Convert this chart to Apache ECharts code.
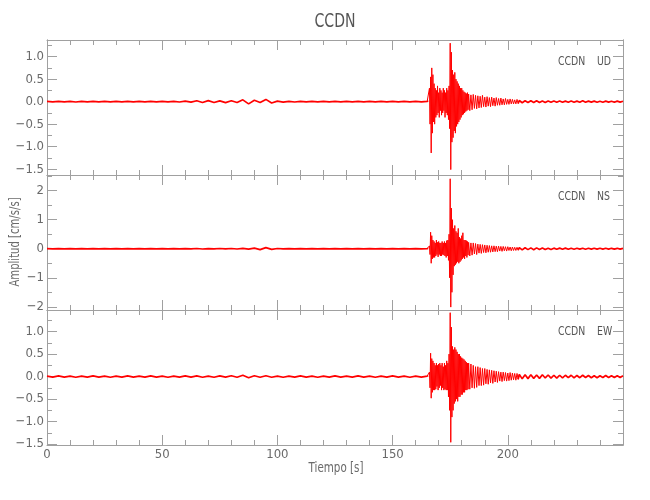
<!DOCTYPE html>
<html><head><meta charset="utf-8">
<script src="https://cdn.jsdelivr.net/npm/echarts@6/dist/echarts.min.js"></script>
<style>html,body{margin:0;padding:0;background:#fff}#c{width:650px;height:500px}</style>
</head><body><div id="c"></div>
<script>
// ---------------- data ----------------
const stationName = 'CCDN';
const channels = ['UD', 'NS', 'EW'];
const xTitle = 'Tiempo [s]';
const yTitle = 'Amplitud [cm/s/s]';
const timeMin = 0, timeMax = 250, timeTickStep = 50;

// sampling of each trace segment: [start time (s), sample step (s)]
const preSampling = [0, 2.5];
const burstSampling = [165.5, 0.25];
const codaSampling = [183, 0.5];
const tailSampling = [205, 1.25];

// UD component
const udPre = [
  0.006,-0.006,0.008,-0.006,0.006,-0.008,0.006,-0.006,0.007,-0.006,
  0.006,-0.007,0.006,-0.006,0.007,-0.006,0.006,-0.007,0.006,-0.006,
  0.007,-0.007,0.008,-0.008,0.012,-0.012,0.02,-0.018,0.022,-0.02,
  0.018,-0.022,0.02,-0.02,0.04,-0.05,0.03,-0.02,0.05,-0.03,
  0.012,-0.01,0.008,-0.008,0.006,-0.007,0.006,-0.006,0.007,-0.006,
  0.006,-0.007,0.006,-0.006,0.007,-0.006,0.006,-0.007,0.006,-0.006,
  0.007,-0.006,0.006,-0.007,0.006,-0.006,0.006];
const udBurst = [
  0.01,-0.02,0.3,-0.5,0.55,-1.14,0.75,-0.7,0.6,-0.45,
  0.4,-0.5,0.3,-0.35,0.25,-0.3,0.35,-0.25,0.2,-0.35,
  0.3,-0.2,0.25,-0.3,0.2,-0.25,0.3,-0.2,0.25,-0.35,
  0.2,-0.25,0.3,-0.3,0.25,-0.4,0.35,-0.6,1.3,-1.51,
  1.1,-0.9,0.7,-0.8,0.6,-0.65,0.65,-0.7,0.5,-0.55,
  0.45,-0.5,0.4,-0.45,0.35,-0.4,0.3,-0.35,0.3,-0.3,
  0.25,-0.28,0.22,-0.25,0.2,-0.22,0.18,-0.2,0.2,-0.18];
const udCoda = [
  0.17,-0.2,0.15,-0.18,0.16,-0.15,0.14,-0.16,0.13,-0.14,
  0.12,-0.13,0.14,-0.11,0.1,-0.12,0.11,-0.1,0.09,-0.11,
  0.1,-0.09,0.08,-0.1,0.09,-0.08,0.07,-0.08,0.08,-0.07,
  0.06,-0.07,0.07,-0.06,0.05,-0.06,0.06,-0.05,0.05,-0.05,
  0.04,-0.05,0.05,-0.04];
const udTail = [
  0.025,-0.025,0.02,-0.02,0.02,-0.02,0.018,-0.02,0.015,-0.018,
  0.015,-0.015,0.015,-0.012,0.015,-0.015,0.012,-0.012,0.015,-0.012,
  0.012,-0.012,0.02,-0.012,0.012,-0.01,0.012,-0.012,0.01,-0.012,
  0.012,-0.01,0.01,-0.012,0.012,-0.01,0.01];

// NS component
const nsPre = [
  0.006,-0.006,0.007,-0.006,0.006,-0.007,0.006,-0.006,0.006,-0.006,
  0.007,-0.006,0.006,-0.006,0.006,-0.007,0.006,-0.006,0.006,-0.006,
  0.007,-0.006,0.006,-0.007,0.006,-0.006,0.009,-0.009,0.007,-0.006,
  0.009,-0.007,0.009,-0.009,0.012,-0.012,0.02,-0.03,0.04,-0.02,
  0.009,-0.007,0.006,-0.006,0.007,-0.006,0.006,-0.006,0.006,-0.007,
  0.006,-0.006,0.007,-0.006,0.006,-0.006,0.007,-0.006,0.006,-0.007,
  0.006,-0.006,0.006,-0.007,0.006,-0.006,0.006];
const nsBurst = [
  0.01,-0.02,0.1,-0.2,0.57,-0.5,0.45,-0.35,0.3,-0.3,
  0.25,-0.3,0.2,-0.25,0.3,-0.2,0.22,-0.28,0.25,-0.2,
  0.2,-0.25,0.2,-0.25,0.25,-0.2,0.2,-0.22,0.25,-0.25,
  0.2,-0.3,0.28,-0.25,0.3,-0.4,0.5,-1.0,2.41,-2.01,
  1.4,-1.5,1.0,-0.9,0.7,-0.6,0.8,-0.55,0.6,-0.5,
  0.55,-0.45,0.7,-0.5,0.4,-0.45,0.35,-0.4,0.45,-0.35,
  0.55,-0.3,0.3,-0.35,0.3,-0.25,0.28,-0.3,0.25,-0.22];
const nsCoda = [
  0.22,-0.25,0.2,-0.22,0.2,-0.18,0.18,-0.2,0.16,-0.15,
  0.15,-0.16,0.14,-0.13,0.13,-0.14,0.12,-0.12,0.11,-0.12,
  0.1,-0.11,0.1,-0.1,0.09,-0.1,0.09,-0.08,0.08,-0.09,
  0.08,-0.07,0.07,-0.08,0.07,-0.06,0.06,-0.07,0.06,-0.06,
  0.05,-0.06,0.05,-0.05];
const nsTail = [
  0.04,-0.04,0.035,-0.03,0.03,-0.035,0.03,-0.025,0.025,-0.03,
  0.02,-0.025,0.02,-0.02,0.02,-0.018,0.02,-0.02,0.018,-0.018,
  0.018,-0.015,0.018,-0.018,0.015,-0.015,0.018,-0.015,0.015,-0.015,
  0.015,-0.015,0.015,-0.012,0.015,-0.015,0.012];

// EW component
const ewPre = [
  0.012,-0.012,0.015,-0.012,0.012,-0.015,0.012,-0.012,0.015,-0.012,
  0.012,-0.015,0.012,-0.012,0.015,-0.012,0.012,-0.012,0.015,-0.012,
  0.012,-0.015,0.012,-0.012,0.015,-0.012,0.015,-0.015,0.012,-0.015,
  0.015,-0.012,0.02,-0.015,0.03,-0.025,0.02,-0.015,0.02,-0.015,
  0.012,-0.015,0.012,-0.012,0.015,-0.012,0.012,-0.015,0.012,-0.012,
  0.015,-0.012,0.012,-0.012,0.015,-0.012,0.012,-0.015,0.012,-0.012,
  0.015,-0.012,0.012,-0.015,0.012,-0.012,0.012];
const ewBurst = [
  0.02,-0.03,0.1,-0.25,0.52,-0.48,0.4,-0.35,0.35,-0.3,
  0.3,-0.3,0.25,-0.28,0.3,-0.22,0.25,-0.3,0.28,-0.25,
  0.3,-0.2,0.25,-0.3,0.3,-0.25,0.22,-0.3,0.3,-0.28,
  0.25,-0.3,0.35,-0.3,0.3,-0.45,0.5,-0.75,1.42,-1.46,
  1.1,-0.9,0.67,-0.75,0.6,-0.6,0.65,-0.55,0.6,-0.5,
  0.55,-0.55,0.5,-0.45,0.5,-0.45,0.45,-0.4,0.42,-0.4,
  0.4,-0.35,0.38,-0.35,0.35,-0.3,0.32,-0.3,0.3,-0.28];
const ewCoda = [
  0.3,-0.28,0.28,-0.25,0.25,-0.26,0.22,-0.24,0.22,-0.2,
  0.2,-0.2,0.18,-0.19,0.18,-0.16,0.16,-0.17,0.15,-0.14,
  0.14,-0.15,0.13,-0.12,0.12,-0.13,0.11,-0.1,0.1,-0.11,
  0.1,-0.09,0.09,-0.1,0.08,-0.09,0.09,-0.08,0.08,-0.07,
  0.07,-0.08,0.07,-0.06];
const ewTail = [
  0.05,-0.05,0.04,-0.045,0.04,-0.04,0.035,-0.04,0.04,-0.03,
  0.035,-0.035,0.03,-0.035,0.03,-0.03,0.03,-0.025,0.03,-0.03,
  0.025,-0.025,0.03,-0.02,0.025,-0.025,0.02,-0.025,0.02,-0.02,
  0.025,-0.02,0.02,-0.02,0.02,-0.018,0.02];

// y ranges and tick values per panel
const udRange = [-1.63, 1.37];
const nsRange = [-2.11, 2.54];
const ewRange = [-1.52, 1.48];
const udMajorTicks = [-1.5, -1, -0.5, 0, 0.5, 1];
const udMinorTicks = [-1.25, -0.75, -0.25, 0.25, 0.75, 1.25];
const nsMajorTicks = [-2, -1, 0, 1, 2];
const nsMinorTicks = [-1.5, -0.5, 0.5, 1.5, 2.5];
const ewMajorTicks = [-1.5, -1, -0.5, 0, 0.5, 1];
const ewMinorTicks = [-1.25, -0.75, -0.25, 0.25, 0.75, 1.25];

// ---------------- build ----------------
function segment(sampling, vals) {
  return vals.map((v, i) => [+(sampling[0] + i * sampling[1]).toFixed(3), v]);
}
function panel(ch, range, major, minor, decimals, pre, burst, coda, tail) {
  const preD = segment(preSampling, pre);
  const mainD = segment(burstSampling, burst).concat(segment(codaSampling, coda));
  const tailD = segment(tailSampling, tail);
  // quiet parts drawn slightly thicker, joined to the main part at the seams
  return { ch, range, major, minor, decimals,
    quiet: [preD.concat([mainD[0]]), [mainD[mainD.length - 1]].concat(tailD)],
    main: [preD[preD.length - 1]].concat(mainD, [tailD[0]]) };
}
const panels = [
  panel(channels[0], udRange, udMajorTicks, udMinorTicks, 1, udPre, udBurst, udCoda, udTail),
  panel(channels[1], nsRange, nsMajorTicks, nsMinorTicks, 0, nsPre, nsBurst, nsCoda, nsTail),
  panel(channels[2], ewRange, ewMajorTicks, ewMinorTicks, 1, ewPre, ewBurst, ewCoda, ewTail)
];

const FONT = "'Liberation Sans Narrow','DejaVu Sans Condensed','Roboto Condensed','Liberation Sans',sans-serif";
const axisColor = '#a0a0a0';
const textColor = '#6a6a6a';
const panelTops = [40, 175, 310];
const panelHeight = 135;

const grids = [], xAxes = [], yAxes = [], series = [], graphics = [];
panels.forEach((p, i) => {
  grids.push({ left: 47, right: 27, top: panelTops[i], height: panelHeight });
  ['bottom', 'top'].forEach(pos => {
    xAxes.push({
      type: 'value', gridIndex: i, position: pos, min: timeMin, max: timeMax, interval: timeTickStep,
      axisLine: { onZero: false, lineStyle: { color: axisColor, width: 1 } },
      axisTick: { inside: true, length: 10, lineStyle: { color: axisColor } },
      minorTick: { show: true, splitNumber: 5, length: 5, lineStyle: { color: axisColor } },
      splitLine: { show: false },
      axisLabel: { show: pos === 'bottom' && i === 2, showMaxLabel: false, margin: 3,
        color: textColor, fontSize: 13, fontFamily: FONT }
    });
  });
  const fmt = v => (v < 0 ? '\u2212' : '') + Math.abs(v).toFixed(p.decimals);
  [['left', true], ['left', false], ['right', true], ['right', false]].forEach(([pos, major]) => {
    yAxes.push({
      type: 'value', gridIndex: i, position: pos, min: p.range[0], max: p.range[1],
      axisLine: { show: true, onZero: false, lineStyle: { color: axisColor, width: 1 } },
      axisTick: { inside: true, length: major ? 10 : 5, customValues: major ? p.major : p.minor,
        lineStyle: { color: axisColor } },
      splitLine: { show: false },
      axisLabel: (pos === 'left' && major)
        ? { show: true, customValues: p.major, formatter: fmt, margin: 3, color: textColor, fontSize: 13, fontFamily: FONT }
        : { show: false }
    });
  });
  p.quiet.forEach(q => series.push({
    type: 'line', xAxisIndex: 2 * i, yAxisIndex: 4 * i, data: q,
    showSymbol: false, symbol: 'none', lineStyle: { color: '#ff0000', width: 1.7 }, silent: true, animation: false
  }));
  series.push({
    type: 'line', xAxisIndex: 2 * i, yAxisIndex: 4 * i, data: p.main,
    showSymbol: false, symbol: 'none', lineStyle: { color: '#ff0000', width: 1 }, silent: true, animation: false
  });
  const ly = panelTops[i] + 22;
  graphics.push({ type: 'text', x: 558, y: ly, scaleX: 0.8,
    style: { text: stationName, font: '13px ' + FONT, fill: '#555', align: 'left', verticalAlign: 'middle' } });
  graphics.push({ type: 'text', x: 597, y: ly, scaleX: 0.8,
    style: { text: p.ch, font: '13px ' + FONT, fill: '#555', align: 'left', verticalAlign: 'middle' } });
});

graphics.push({ type: 'text', x: 335, y: 22, scaleX: 0.78,
  style: { text: stationName, font: '20px ' + FONT, fill: '#555', align: 'center', verticalAlign: 'middle' } });
graphics.push({ type: 'text', x: 336, y: 468, scaleX: 0.82,
  style: { text: xTitle, font: '14px ' + FONT, fill: textColor, align: 'center', verticalAlign: 'middle' } });
graphics.push({ type: 'text', x: 15, y: 242, rotation: Math.PI / 2, scaleX: 0.8,
  style: { text: yTitle, font: '14px ' + FONT, fill: textColor, align: 'center', verticalAlign: 'middle' } });

const chart = echarts.init(document.getElementById('c'), null, { renderer: 'canvas' });
chart.setOption({
  animation: false,
  backgroundColor: '#fff',
  grid: grids, xAxis: xAxes, yAxis: yAxes, series: series,
  graphic: graphics
});
</script></body></html>
